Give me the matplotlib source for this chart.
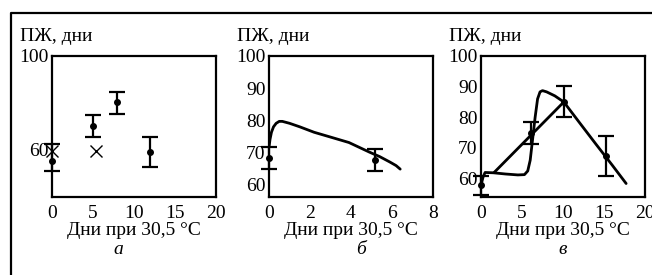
import matplotlib
matplotlib.use("Agg")
import matplotlib.pyplot as plt
from matplotlib.lines import Line2D

plt.rcParams['font.family'] = ['Liberation Serif', 'DejaVu Serif']
plt.rcParams['font.size'] = 14

# panel a: observations with error bars, and crosses
a_x = [0, 5, 7.9, 12]
a_y = [55.5, 70.2, 80.3, 59.1]
a_err_lo = [4.5, 4.7, 4.8, 6.3]
a_err_hi = [7.0, 4.7, 4.4, 6.3]
a_cross_x = [0, 5.4]
a_cross_y = [59.6, 59.6]

# panel b: observations and model curve
b_x = [0, 5.15]
b_y = [68.1, 67.5]
b_err = [3.4, 3.4]
b_curve_x = [0.0, 0.05, 0.12, 0.22, 0.35, 0.5, 0.65, 1.0, 1.5, 2.2, 3.0, 3.9,
             4.9, 5.4, 5.9, 6.2, 6.4]
b_curve_y = [71.5, 74.0, 76.2, 77.9, 79.0, 79.6, 79.6, 79.0, 77.9, 76.2, 74.7,
             73.0, 70.0, 68.6, 66.9, 65.8, 64.7]

# panel c: observations, model curve and broken line
c_x = [0, 6.1, 10.1, 15.3]
c_y = [57.8, 75.0, 85.1, 67.5]
c_err = [3.2, 3.6, 5.0, 6.5]
c_model_x = [0.0, 0.25, 0.5, 1.5, 3.0, 4.5, 5.3, 5.7, 6.0, 6.3, 6.6, 6.9,
             7.2, 7.5, 8.0, 9.0, 10.1, 12.0, 14.0, 16.0, 17.7]
c_model_y = [57.8, 60.5, 62.0, 61.9, 61.5, 61.2, 61.3, 62.5, 66.0, 73.0, 80.0,
             86.0, 88.3, 88.7, 88.3, 87.0, 85.0, 78.3, 71.3, 64.4, 58.4]
c_line_x = [1.6, 10.1]
c_line_y = [62.0, 85.0]

y_label = "ПЖ, дни"
x_label = "Дни при 30,5 °C"
letters = ["а", "б", "в"]

fig = plt.figure(figsize=(6.52, 2.75), dpi=100)
W, H = 652, 275


def box(left, top, right, bottom):
    return [left / W, (H - bottom) / H, (right - left) / W, (bottom - top) / H]


ax_a = fig.add_axes(box(52, 56, 216, 197))
ax_b = fig.add_axes(box(269, 56, 433, 197))
ax_c = fig.add_axes(box(481, 56, 645, 197))

ebkw = dict(fmt='o', color='black', ms=4, elinewidth=1.6, capsize=6,
            capthick=1.6, clip_on=False, zorder=5)

ax_a.errorbar(a_x, a_y, yerr=[a_err_lo, a_err_hi], **ebkw)
ax_a.plot(a_cross_x, a_cross_y, 'x', color='black', ms=8, mew=1.0,
          clip_on=False, zorder=6)
ax_a.set_xlim(0, 20)
ax_a.set_ylim(40, 100)
ax_a.set_xticks([0, 5, 10, 15, 20])
ax_a.set_yticks([60, 100])

ax_b.plot(b_curve_x, b_curve_y, color='black', lw=2, solid_capstyle='round')
ax_b.errorbar(b_x, b_y, yerr=b_err, **ebkw)
ax_b.set_xlim(0, 8)
ax_b.set_ylim(56, 100)
ax_b.set_xticks([0, 2, 4, 6, 8])
ax_b.set_yticks([60, 70, 80, 90, 100])

ax_c.plot(c_model_x, c_model_y, color='black', lw=2, solid_capstyle='round')
ax_c.plot(c_line_x, c_line_y, color='black', lw=2, solid_capstyle='round')
ax_c.errorbar(c_x, c_y, yerr=c_err, **ebkw)
ax_c.set_xlim(0, 20)
ax_c.set_ylim(54, 100)
ax_c.set_xticks([0, 5, 10, 15, 20])
ax_c.set_yticks([60, 70, 80, 90, 100])

for ax in (ax_a, ax_b, ax_c):
    for s in ax.spines.values():
        s.set_linewidth(1.6)
    ax.tick_params(length=0, labelsize=14)
    ax.tick_params(axis='x', pad=6)
    ax.tick_params(axis='y', pad=2.5)
    pos = ax.get_position()
    # x-axis title under each panel
    fig.text((pos.x0 + pos.x1) / 2, 1 - 235 / H, x_label, fontsize=14,
             ha='center', va='baseline')

# y-axis titles above each panel
for xpx in (20, 237, 449):
    fig.text(xpx / W, 1 - 41 / H, y_label, fontsize=14, ha='left',
             va='baseline')

# panel letters
for xpx, lt in zip((118, 361, 563), letters):
    fig.text(xpx / W, 1 - 254 / H, lt, fontsize=14, style='italic',
             ha='center', va='baseline')

# outer frame (top and left edges visible)
fig.add_artist(Line2D([11 / W, 11 / W, 1.0], [0.0, 1 - 13 / H, 1 - 13 / H],
                      color='black', lw=1.6, transform=fig.transFigure))

fig.savefig("out.png", dpi=100)
